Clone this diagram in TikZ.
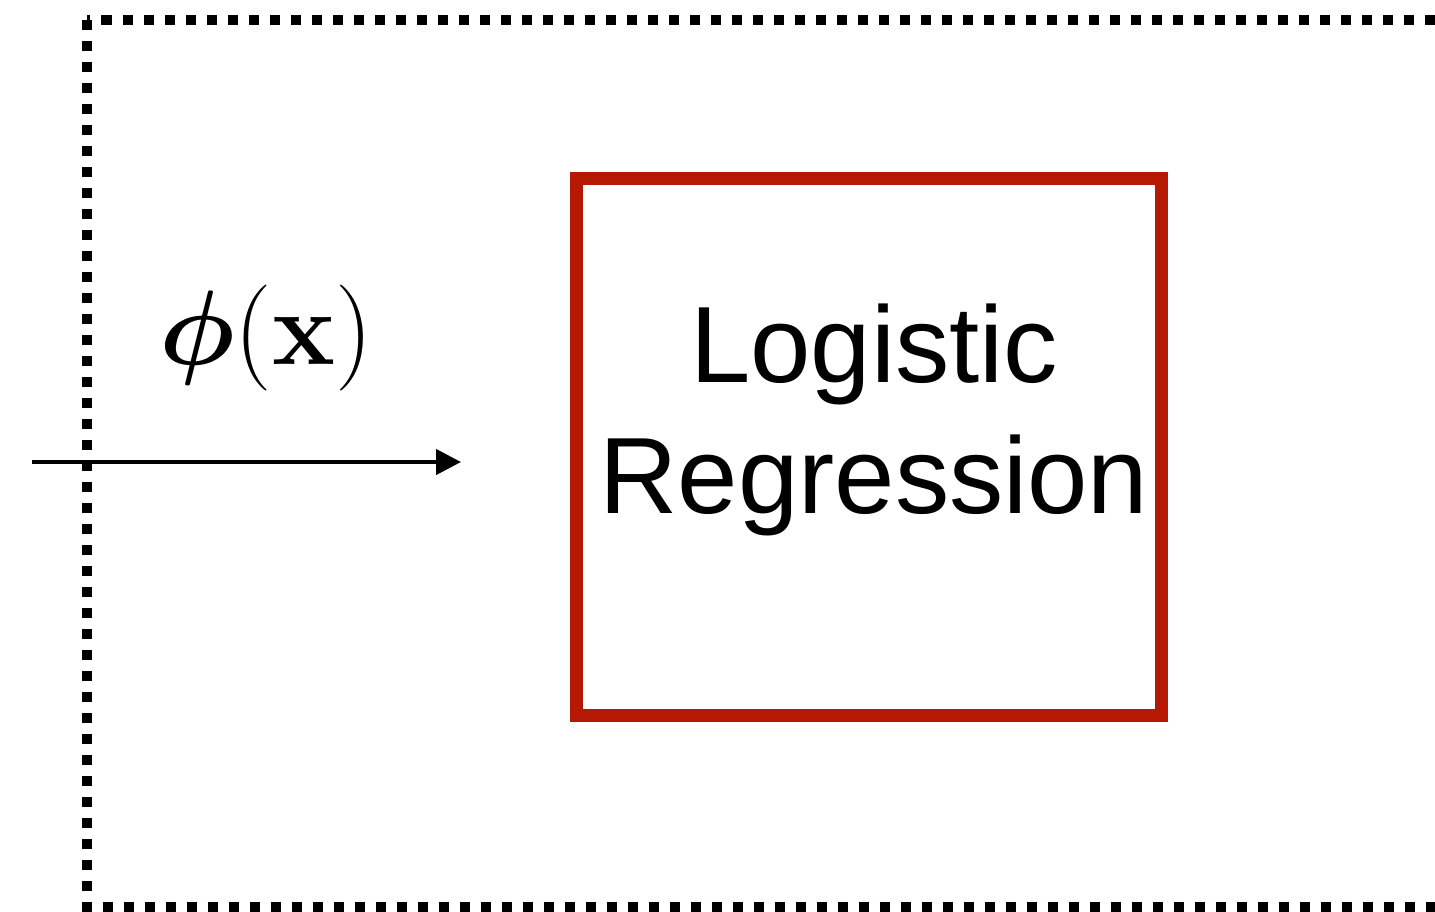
\documentclass[tikz,border=0pt]{standalone}
\usepackage{fix-cm}
\usepackage{amsmath}
\usepackage[no-math]{fontspec}
\setmainfont{Liberation Sans}
\usetikzlibrary{arrows.meta}
\definecolor{boxred}{RGB}{181,24,3}
\tikzset{
  frame/.style={line width=10pt, dash pattern=on 10pt off 11pt},
  modelbox/.style={draw=boxred, line width=13pt, minimum width=585pt, minimum height=536.5pt, inner sep=0pt},
  modeltext/.style={align=center, inner sep=0pt, font=\fontsize{108.5}{131}\selectfont},
  feature/.style={inner sep=0pt, font=\fontsize{106}{120}\selectfont},
  flow/.style={line width=4.5pt, -{Triangle[length=25pt,width=25pt]}}
}
\begin{document}
\begin{tikzpicture}[x=1pt,y=1pt]
  \useasboundingbox (0,0) rectangle (1435,-912);
  \clip (0,0) rectangle (1435,-912);
  % outer dotted frame, open to the right
  \draw[frame] (86.5,-20) rectangle (1480,-907);
  % model block
  \node[modelbox] (lr) at (869,-446.75) {};
  \node[modeltext] (lrtext) at (874,-420) {Logistic\\Regression};
  % input arrow and its label
  \coordinate (in) at (32,-462);
  \coordinate (out) at (461,-462);
  \draw[flow] (in) -- (out);
  \node[feature, anchor=base] (phi) at (266,-364) {$\boldsymbol{\phi}(\mathbf{x})$};
\end{tikzpicture}
\end{document}
